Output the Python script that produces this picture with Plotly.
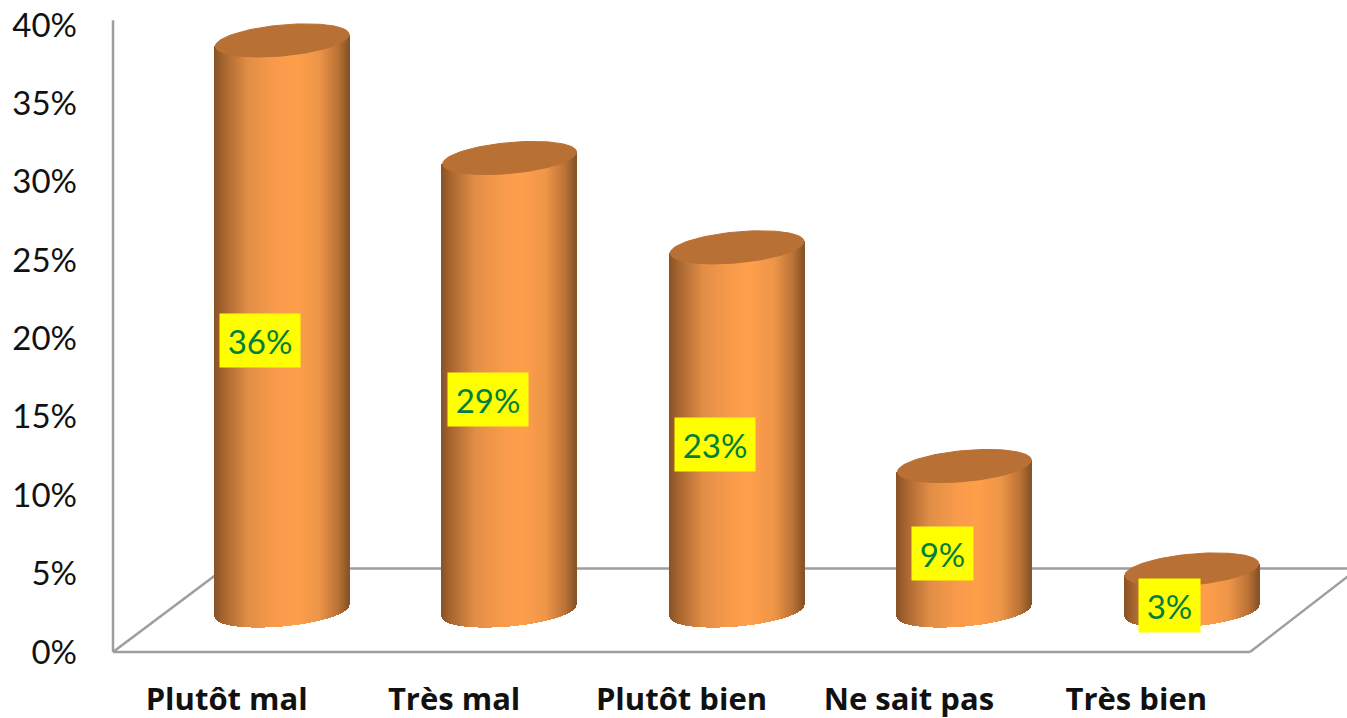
import numpy as np
import plotly.graph_objects as go

# ---- data ----
categories = ["Plutôt mal", "Très mal", "Plutôt bien", "Ne sait pas", "Très bien"]
values = [36.4, 28.9, 23.2, 9.25, 2.65]
y_ticks = [0, 5, 10, 15, 20, 25, 30, 35, 40]

# ---- styling / geometry ----
W, H = 1347, 718
PLOT_L, PLOT_B = 113, 652
PAD = 6                        # room so the edge lines are not clipped
PX_PER_CAT = 227.4
PX_PER_PCT = 15.675
DEPTH_X = 55.5 / PX_PER_CAT    # 3D shift of bars, category units
DEPTH_Y = 41 / PX_PER_PCT      # 3D shift of bars, percent units
HALF_W_PX, ELL_B_PX, TILT = 67, 15.5, 0.088
GREY = "#9E9E9E"
stops = [(0, (0x8A, 0x54, 0x26)), (0.07, (0xA8, 0x66, 0x30)), (0.25, (0xE2, 0x8E, 0x47)),
         (0.45, (0xF8, 0x9B, 0x4B)), (0.6, (0xFF, 0x9F, 0x4C)), (0.78, (0xEE, 0x96, 0x48)),
         (0.92, (0xBC, 0x73, 0x37)), (1, (0x88, 0x54, 0x27))]


def shade(t):
    xs = [s[0] for s in stops]
    return "rgb(%d,%d,%d)" % tuple(np.interp(t, xs, [s[1][k] for s in stops]) for k in range(3))


fig = go.Figure()
dx_px = np.arange(-HALF_W_PX, HALF_W_PX + 1.0, 1.0)
for i, v in enumerate(values):
    cx = i + DEPTH_X
    dx = dx_px / PX_PER_CAT
    tilt = TILT * dx_px / PX_PER_PCT
    low = np.sqrt(np.clip(1 - (dx_px / HALF_W_PX) ** 2, 0, 1)) * ELL_B_PX / PX_PER_PCT
    base = DEPTH_Y + tilt - low
    top = DEPTH_Y + v + tilt
    fig.add_trace(go.Bar(
        x=cx + dx, y=top - base, base=base, width=1.4 / PX_PER_CAT,
        marker=dict(color=[shade((d + HALF_W_PX) / (2 * HALF_W_PX)) for d in dx_px], line=dict(width=0)),
        hoverinfo="skip", showlegend=False))
    t = np.linspace(0, 2 * np.pi, 121)
    ex = HALF_W_PX * np.cos(t)
    ey = TILT * ex + ELL_B_PX * np.sin(t)
    fig.add_trace(go.Scatter(
        x=cx + ex / PX_PER_CAT, y=DEPTH_Y + v + ey / PX_PER_PCT, mode="lines", fill="toself",
        fillcolor="#B87035", line=dict(color="#B87035", width=1),
        hoverinfo="skip", showlegend=False))
    wide = len(f"{v:.0f}") > 1
    fig.add_annotation(
        x=cx - 22 / PX_PER_CAT, y=DEPTH_Y + v / 2 - 15 / PX_PER_PCT, xref="x", yref="y",
        text=f"{v:.0f}%", showarrow=False, bgcolor="#FFFF00", width=78 if wide else 59, height=51,
        align="center", valign="middle",
        font=dict(family="Lato", size=33, color="#00803C"))

x0 = -0.5
floor_y = (PLOT_B - 568.5) / PX_PER_PCT
floor_dx = (floor_y * PX_PER_PCT / 0.75) / PX_PER_CAT
floor_dx_r = (floor_y * PX_PER_PCT / 0.773) / PX_PER_CAT
x4 = 4.5
lines = [
    (x0, 0, x0, 40.3),                         # back wall edge
    (x0, 0, x4, 0),                            # front floor edge
    (x0, 0, x0 + floor_dx, floor_y),           # left floor edge
    (x4, 0, x4 + floor_dx_r, floor_y),         # right floor edge
    (x0 + floor_dx, floor_y, x4 + floor_dx_r, floor_y),  # back floor edge
]
for a, b, c, d in lines:
    fig.add_shape(type="line", x0=a, y0=b, x1=c, y1=d, xref="x", yref="y", layer="below",
                  line=dict(color=GREY, width=2.5))

fig.update_layout(
    width=W, height=H, barmode="overlay", bargap=0,
    margin=dict(l=PLOT_L - PAD, r=0, t=0, b=H - PLOT_B - PAD),
    paper_bgcolor="white", plot_bgcolor="white", showlegend=False,
    xaxis=dict(range=[x0 - PAD / PX_PER_CAT, x0 + (W - PLOT_L) / PX_PER_CAT], tickmode="array",
               tickvals=list(range(len(categories))),
               ticktext=categories, showgrid=False, zeroline=False, showline=False, ticks="",
               ticklabelstandoff=20, tickangle=0,
               tickfont=dict(family="Open Sans", size=31, color="#111111", weight="bold")),
    yaxis=dict(range=[-PAD / PX_PER_PCT, PLOT_B / PX_PER_PCT], tickmode="array", tickvals=y_ticks,
               ticktext=[f"{t}%" for t in y_ticks], showgrid=False, zeroline=False, showline=False,
               ticks="", ticklabelstandoff=29,
               tickfont=dict(family="Lato", size=33, color="#111111")),
)

fig.write_html("out.html", config=dict(displayModeBar=False),
               post_script="document.body.style.margin='0';document.body.style.overflow='hidden';")
